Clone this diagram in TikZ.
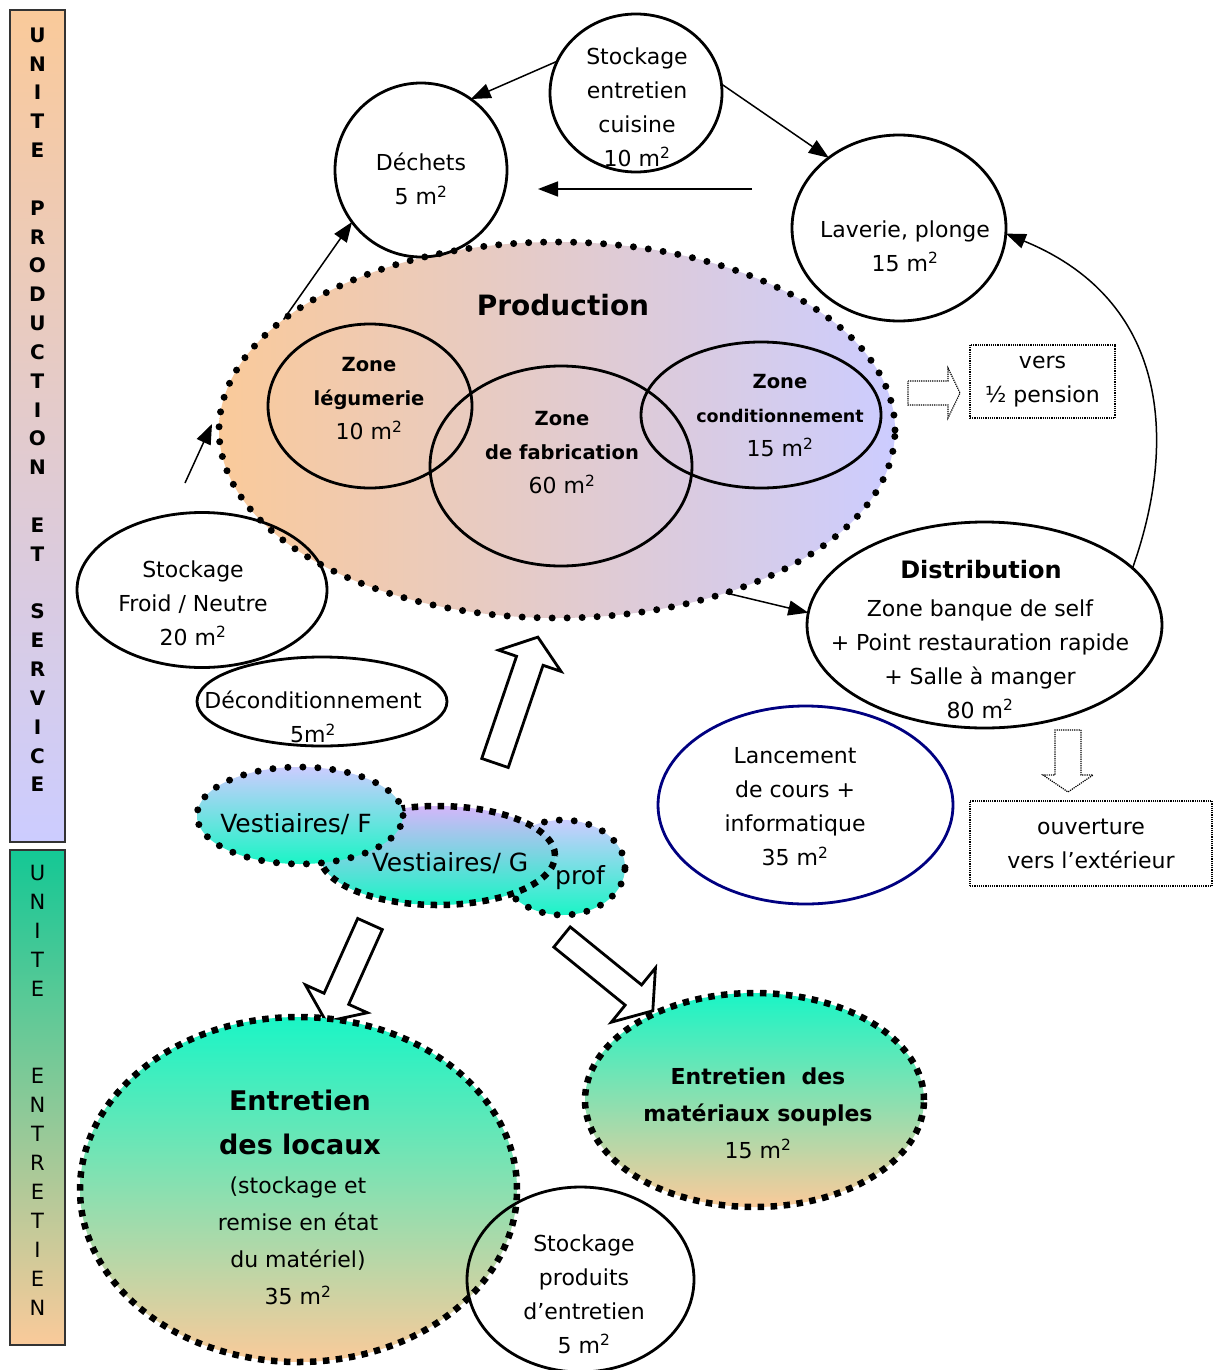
\documentclass[tikz,border=0pt]{standalone}
\usepackage{fontspec}
\setmainfont{DejaVu Sans}
\usetikzlibrary{shapes.geometric,arrows.meta}
\definecolor{orng}{HTML}{FACA9A}
\definecolor{lav}{HTML}{CCCCFF}
\definecolor{teala}{HTML}{1AF5C6}
\definecolor{tealb}{HTML}{14C895}
\definecolor{purp}{HTML}{D4B6FA}
\definecolor{navya}{HTML}{000080}
\newcommand\mcarre{m\textsuperscript{2}}
\newcommand\zbold[1]{{\fontsize{19.5}{34}\selectfont\bfseries #1}}
\newcommand\blkarrow[8]{%
  \begin{scope}[shift={(#1,#2)},rotate=#3]
    \draw[#8] (0,-#5) -- ({#4-#7},-#5) -- ({#4-#7},-#6) -- (#4,0) -- ({#4-#7},#6) -- ({#4-#7},#5) -- (0,#5) -- cycle;
  \end{scope}}
\begin{document}
\begin{tikzpicture}[x=1pt,y=-1pt,
  every node/.style={font=\fontsize{22}{34}\selectfont, align=center, inner sep=0pt, outer sep=0pt},
  ell/.style n args={2}{ellipse, draw, line width=2.8pt, minimum width=#1, minimum height=#2},
  rdots/.style={line width=7pt, dash pattern=on 0pt off 15pt, line cap=round},
  sdots/.style={line width=6.5pt, dash pattern=on 6.5pt off 6.5pt},
  arr/.style={line width=1.5pt, -{Triangle[length=20pt,width=15pt]}},
  blk/.style={draw, fill=white, line width=2.8pt, line join=miter},
  dblk/.style={draw, fill=white, line width=1.2pt, densely dotted},
  dbox/.style={draw, line width=1.2pt, densely dotted},
]
\fill[white] (0,0) rectangle (1213,1370);
\useasboundingbox (0,0) rectangle (1213,1370);

% side bars
\node[draw=black!80, line width=1.2pt, top color=orng, bottom color=lav, minimum width=55pt, minimum height=832pt] (bar1) at (37.5,426) {};
\node[draw=black!80, line width=1.2pt, top color=tealb, bottom color=orng, minimum width=55pt, minimum height=495pt] (bar2) at (37.5,1097.5) {};
\foreach \l [count=\i] in {U,N,I,T,E,{},P,R,O,D,U,C,T,I,O,N,{},E,T,{},S,E,R,V,I,C,E}
  \node[font=\fontsize{20}{20}\selectfont\bfseries] (tl\i) at (37.5,{35+28.83*(\i-1)}) {\l};
\foreach \l [count=\i] in {U,N,I,T,E,{},{},E,N,T,R,E,T,I,E,N}
  \node[font=\fontsize{21}{21}\selectfont] (bl\i) at (37.5,{873+29*(\i-1)}) {\l};

% production
\node[ell={676pt}{376pt}, left color=orng, right color=lav, rdots] (prod) at (557,430) {};
\node[font=\fontsize{28}{34}\selectfont\bfseries] (prodt) at (563,305) {Production};
\node[ell={204pt}{164pt}] (zleg) at (370,406) {};
\node (zlegt) at (369,399) {\zbold{Zone}\\\zbold{légumerie}\\10 \mcarre};
\node[ell={262pt}{200pt}] (zfab) at (561,466) {};
\node (zfabt) at (562,453) {\zbold{Zone}\\\zbold{de fabrication}\\60 \mcarre};
\node[ell={240pt}{146pt}] (zcond) at (761,415) {};
\node (zcondt) at (780,416) {\zbold{Zone}\\{\fontsize{17.5}{34}\selectfont\bfseries conditionnement}\\15 \mcarre};

% top bubbles
\node[ell={172pt}{174pt}] (dech) at (421,170) {};
\node (decht) at (421,179) {Déchets\\5 \mcarre};
\node[ell={172pt}{158pt}] (sec) at (636,93) {};
\node (sect) at (637,107) {Stockage\\entretien\\cuisine\\10 \mcarre};
\node[ell={214pt}{186pt}] (lav) at (899,228) {};
\node (lavt) at (905,246) {Laverie, plonge\\15 \mcarre};

% left bubbles
\node[ell={250pt}{155pt}] (sfn) at (202,590) {};
\node (sfnt) at (193,603) {Stockage\\Froid / Neutre\\20 \mcarre};
\node[ell={250pt}{89pt}] (dec) at (322,701.5) {};
\node (dect) at (313,717) {Déconditionnement\\5\mcarre};

% distribution
\node[ell={355pt}{206pt}] (dist) at (984.5,625) {};
\node[font=\fontsize{24}{34}\selectfont\bfseries] (distt) at (981,570) {Distribution};
\node (distb) at (980,659) {Zone banque de self\\+ Point restauration rapide\\+ Salle à manger\\80 \mcarre};

% lancement
\node[ell={295pt}{198pt}, draw=navya] (lanc) at (805.5,805) {};
\node (lanct) at (795,807) {Lancement\\de cours +\\informatique\\35 \mcarre};

% dotted boxes and arrows
\node[dbox, minimum width=145pt, minimum height=73pt] (vers) at (1042.5,381.5) {vers\\½ pension};
\node[dbox, minimum width=242pt, minimum height=85pt] (ouv) at (1091,843.5) {ouverture\\vers l’extérieur};
\blkarrow{908}{393}{0}{52}{12}{25}{12}{dblk}
\blkarrow{1068}{730}{-90}{62}{13}{25}{17}{dblk}

% connectors
\coordinate (c1) at (752,189);
\coordinate (c2) at (538,189);
\coordinate (e1) at (185,483);
\coordinate (e2) at (212,424);
\draw[arr] (sec.158) -- (dech.55);
\draw[arr] (sec.6) -- (lav.135);
\draw[arr] (c1) -- (c2);
\draw[arr] (prod.158) -- (dech.217);
\draw[arr] (e1) -- (e2);
\draw[arr] (prod.-44) -- (dist.176);
\draw[arr] (dist.21) .. controls (1178,440) and (1168,300) .. (lav.-3);

% block arrow up
\blkarrow{495}{763}{71.2}{133}{14}{33}{25}{blk}

% vestiaires
\node[ell={125pt}{95pt}, top color=lav, bottom color=teala, rdots] (prof) at (562.5,867.5) {};
\node[ell={235pt}{99pt}, top color=purp, bottom color=teala, sdots] (vg) at (437.5,855.5) {};
\node[ell={206pt}{97pt}, top color=lav, bottom color=teala, rdots] (vf) at (300,815.5) {};
\node[font=\fontsize{25}{30}\selectfont] (vft) at (296,824) {Vestiaires/ F};
\node[font=\fontsize{25}{30}\selectfont] (vgt) at (450,863) {Vestiaires/ G};
\node[font=\fontsize{25}{30}\selectfont] (proft) at (580,878) {prof};

% block arrows down
\blkarrow{370}{924}{-114.2}{107}{13.5}{34}{25}{blk}
\blkarrow{562}{937}{-39.1}{117}{13}{35}{25}{blk}

% entretien
\node[ell={437pt}{345pt}, top color=teala, bottom color=orng, sdots] (loc) at (298.5,1189.5) {};
\node[font=\fontsize{27}{44}\selectfont\bfseries] (loct) at (300,1122) {Entretien\\ des locaux};
\node[font=\fontsize{22}{37}\selectfont] (locb) at (298,1241) {(stockage et\\remise en état\\du matériel)\\35 \mcarre};
\node[ell={339pt}{214pt}, top color=teala, bottom color=orng, sdots] (soup) at (754.5,1100) {};
\node[font=\fontsize{22}{37}\selectfont] (soupt) at (758,1113) {\textbf{Entretien\ \ des}\\\textbf{matériaux souples}\\15 \mcarre};

\node[ell={227pt}{185pt}] (spe) at (580.5,1279.5) {};
\node (spet) at (584,1294) {Stockage\\produits\\d’entretien\\5 \mcarre};
\end{tikzpicture}
\end{document}
